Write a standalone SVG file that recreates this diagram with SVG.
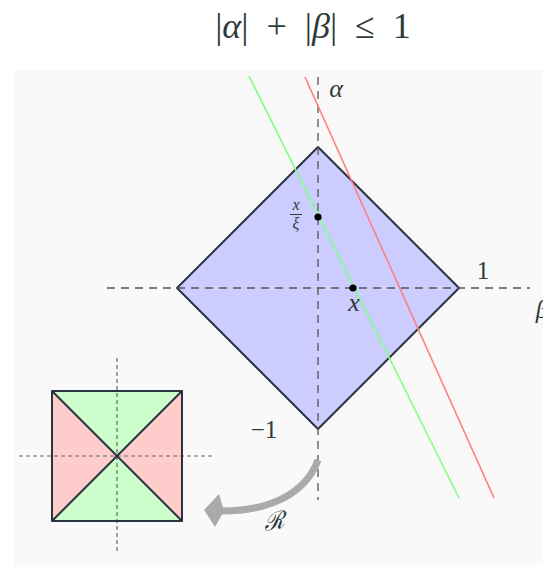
<svg xmlns="http://www.w3.org/2000/svg" width="543" height="565" viewBox="0 0 543 565">
<style>
.lbl{font-family:"Liberation Serif","DejaVu Serif",serif;fill:#2f3b3b}
.it{font-style:italic}
.axis{stroke:#555;stroke-width:1.3;stroke-dasharray:8 6;fill:none}
.axs{stroke:#666;stroke-width:1.2;stroke-dasharray:4 3;fill:none}
.edge{stroke:#2a3440;stroke-width:2;stroke-linejoin:round}
</style>
<rect x="0" y="0" width="543" height="565" fill="#ffffff"/>
<rect x="14" y="70" width="529" height="495" fill="#f9f9f9"/>
<text class="lbl" x="313" y="38" font-size="36" text-anchor="middle" xml:space="preserve">|<tspan class="it">α</tspan>|  +  |<tspan class="it">β</tspan>|  ≤  1</text>
<g id="diamond">
<polygon class="edge" points="318,147 459,288 318,429 177,288" fill="#ccccff"/>
</g>
<g id="axes">
<line class="axis" x1="318" y1="77" x2="318" y2="500"/>
<line class="axis" x1="107" y1="288" x2="530" y2="288"/>
</g>
<g id="lines">
<line x1="249" y1="76" x2="459" y2="498" stroke="#80ff80" stroke-width="1.6"/>
<line x1="305" y1="77" x2="494" y2="498" stroke="#ff8080" stroke-width="1.6"/>
</g>
<g id="points">
<circle cx="318" cy="217" r="3.6" fill="#000"/>
<circle cx="353" cy="288" r="3.6" fill="#000"/>
</g>
<g id="labels">
<text class="lbl it" x="336" y="97" font-size="26" text-anchor="middle">α</text>
<text class="lbl" x="483" y="279" font-size="25" text-anchor="middle">1</text>
<text class="lbl it" x="542" y="318" font-size="25" text-anchor="middle">β</text>
<text class="lbl" x="264" y="438" font-size="25" text-anchor="middle">−1</text>
<text class="lbl it" x="354" y="311" font-size="26" text-anchor="middle">x</text>
<text class="lbl it" x="296" y="210" font-size="16" text-anchor="middle">x</text>
<line x1="290" y1="214.5" x2="302" y2="214.5" stroke="#2f3b3b" stroke-width="1"/>
<text class="lbl it" x="296" y="229" font-size="16" text-anchor="middle">ξ</text>
</g>
<g id="square">
<polygon points="52,391 182,391 117,456" fill="#ccffcc"/>
<polygon points="52,521 182,521 117,456" fill="#ccffcc"/>
<polygon points="52,391 52,521 117,456" fill="#ffcccc"/>
<polygon points="182,391 182,521 117,456" fill="#ffcccc"/>
<line class="axs" x1="117" y1="358" x2="117" y2="552"/>
<line class="axs" x1="19" y1="456" x2="214" y2="456"/>
<rect x="52" y="391" width="130" height="130" fill="none" class="edge"/>
<line class="edge" x1="52" y1="391" x2="182" y2="521"/>
<line class="edge" x1="182" y1="391" x2="52" y2="521"/>
</g>
<g id="connectors">
<path d="M318,460 C305,495 268,511 222,511" fill="none" stroke="#aaaaaa" stroke-width="7"/>
<polygon points="204,510 219,494 224,511 215,527" fill="#aaaaaa"/>
<text x="274" y="529" font-family="DejaVu Serif,serif" font-style="italic" font-size="24" fill="#2f3b3b" text-anchor="middle" transform="rotate(-10 274 522)">ℛ</text>
</g>
</svg>
